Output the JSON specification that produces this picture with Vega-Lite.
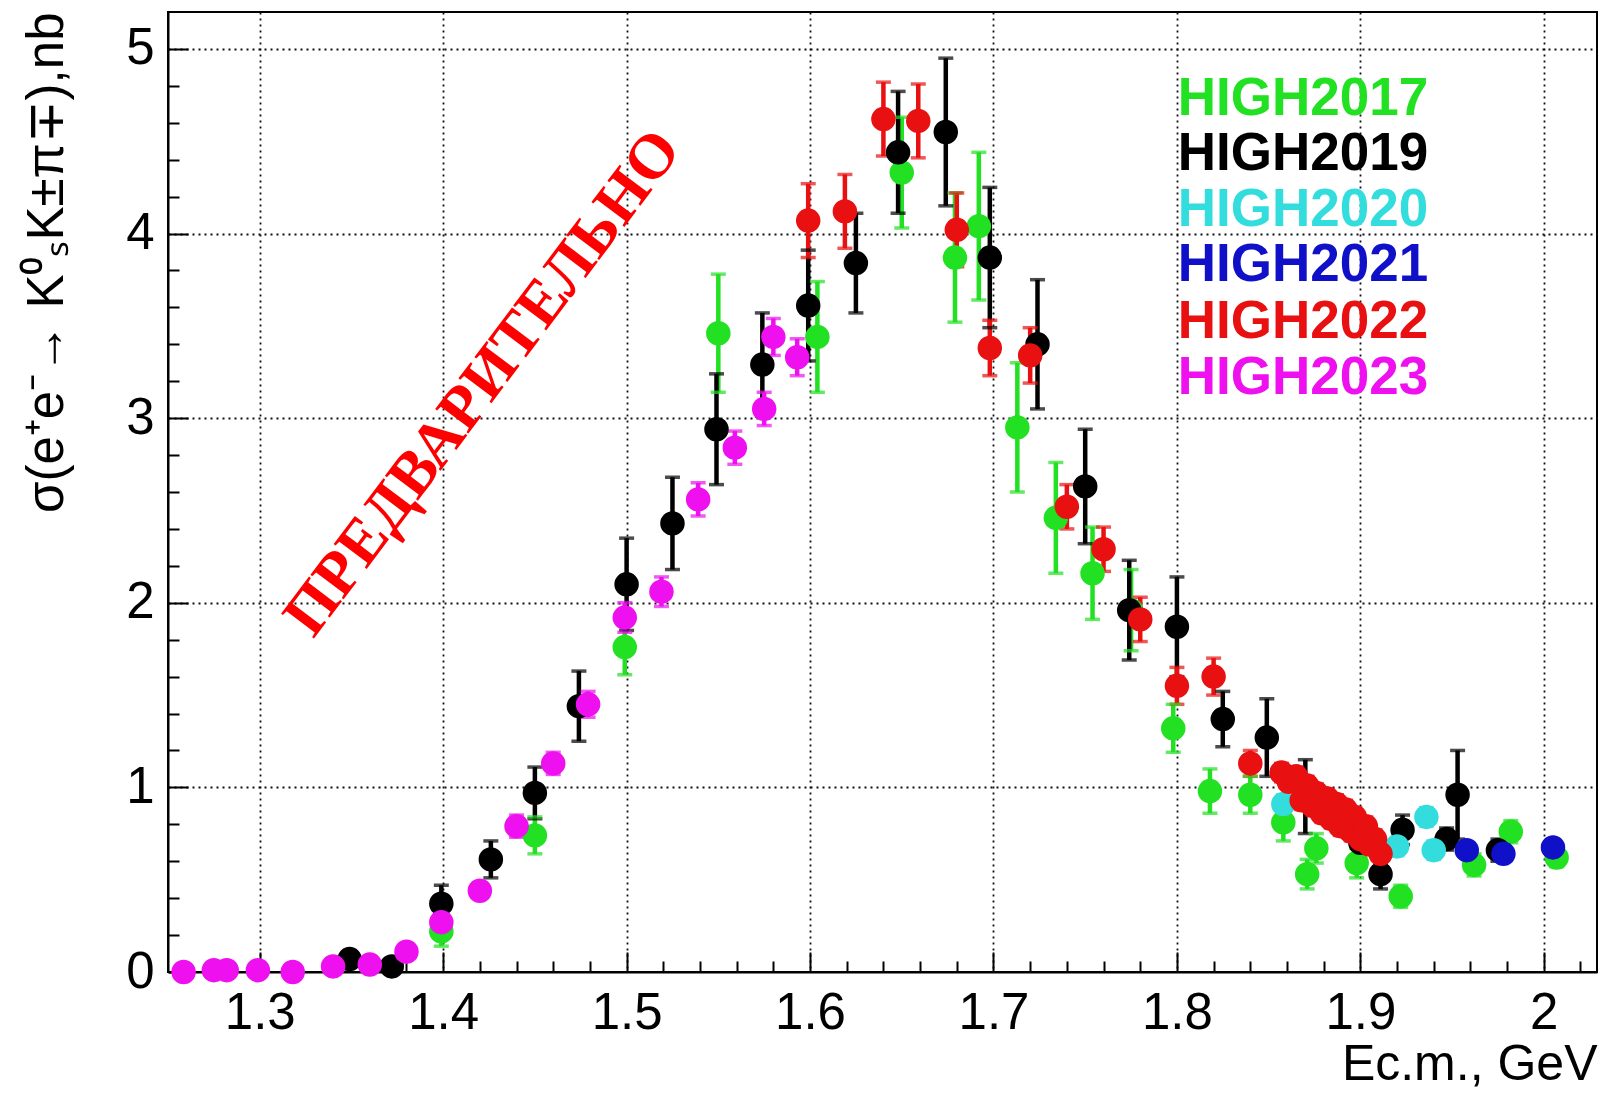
{
  "$schema": "https://vega.github.io/schema/vega-lite/v6.json",
  "width": 1429,
  "height": 960,
  "autosize": {"type": "none"},
  "padding": {"left": 168, "top": 12, "right": 4, "bottom": 124},
  "background": "white",
  "config": {
    "view": {"stroke": "black", "strokeWidth": 2},
    "font": "Liberation Sans"
  },
  "data": {"values": [
    {"run": "HIGH2017", "E": 1.399, "s": 0.22, "lo": 0.14, "hi": 0.30},
    {"run": "HIGH2017", "E": 1.450, "s": 0.74, "lo": 0.64, "hi": 0.84},
    {"run": "HIGH2017", "E": 1.499, "s": 1.76, "lo": 1.61, "hi": 1.91},
    {"run": "HIGH2017", "E": 1.550, "s": 3.46, "lo": 3.14, "hi": 3.78},
    {"run": "HIGH2017", "E": 1.604, "s": 3.44, "lo": 3.14, "hi": 3.74},
    {"run": "HIGH2017", "E": 1.650, "s": 4.33, "lo": 4.03, "hi": 4.63},
    {"run": "HIGH2017", "E": 1.679, "s": 3.87, "lo": 3.52, "hi": 4.22},
    {"run": "HIGH2017", "E": 1.692, "s": 4.04, "lo": 3.64, "hi": 4.44},
    {"run": "HIGH2017", "E": 1.713, "s": 2.95, "lo": 2.60, "hi": 3.30},
    {"run": "HIGH2017", "E": 1.734, "s": 2.46, "lo": 2.16, "hi": 2.76},
    {"run": "HIGH2017", "E": 1.754, "s": 2.16, "lo": 1.91, "hi": 2.41},
    {"run": "HIGH2017", "E": 1.775, "s": 1.96, "lo": 1.74, "hi": 2.18},
    {"run": "HIGH2017", "E": 1.798, "s": 1.32, "lo": 1.19, "hi": 1.45},
    {"run": "HIGH2017", "E": 1.818, "s": 0.98, "lo": 0.86, "hi": 1.10},
    {"run": "HIGH2017", "E": 1.840, "s": 0.96, "lo": 0.86, "hi": 1.06},
    {"run": "HIGH2017", "E": 1.858, "s": 0.81, "lo": 0.71, "hi": 0.91},
    {"run": "HIGH2017", "E": 1.871, "s": 0.53, "lo": 0.45, "hi": 0.61},
    {"run": "HIGH2017", "E": 1.876, "s": 0.67, "lo": 0.59, "hi": 0.75},
    {"run": "HIGH2017", "E": 1.898, "s": 0.59, "lo": 0.51, "hi": 0.67},
    {"run": "HIGH2017", "E": 1.922, "s": 0.41, "lo": 0.35, "hi": 0.47},
    {"run": "HIGH2017", "E": 1.962, "s": 0.58, "lo": 0.52, "hi": 0.64},
    {"run": "HIGH2017", "E": 1.982, "s": 0.76, "lo": 0.70, "hi": 0.82},
    {"run": "HIGH2017", "E": 2.007, "s": 0.62, "lo": 0.57, "hi": 0.67},

    {"run": "HIGH2019", "E": 1.349, "s": 0.07, "lo": 0.03, "hi": 0.11},
    {"run": "HIGH2019", "E": 1.372, "s": 0.03, "lo": 0.00, "hi": 0.06},
    {"run": "HIGH2019", "E": 1.399, "s": 0.37, "lo": 0.27, "hi": 0.47},
    {"run": "HIGH2019", "E": 1.426, "s": 0.61, "lo": 0.51, "hi": 0.71},
    {"run": "HIGH2019", "E": 1.450, "s": 0.97, "lo": 0.83, "hi": 1.11},
    {"run": "HIGH2019", "E": 1.474, "s": 1.44, "lo": 1.25, "hi": 1.63},
    {"run": "HIGH2019", "E": 1.500, "s": 2.10, "lo": 1.85, "hi": 2.35},
    {"run": "HIGH2019", "E": 1.525, "s": 2.43, "lo": 2.18, "hi": 2.68},
    {"run": "HIGH2019", "E": 1.549, "s": 2.94, "lo": 2.64, "hi": 3.24},
    {"run": "HIGH2019", "E": 1.574, "s": 3.29, "lo": 3.01, "hi": 3.57},
    {"run": "HIGH2019", "E": 1.599, "s": 3.61, "lo": 3.31, "hi": 3.91},
    {"run": "HIGH2019", "E": 1.625, "s": 3.84, "lo": 3.57, "hi": 4.11},
    {"run": "HIGH2019", "E": 1.648, "s": 4.44, "lo": 4.11, "hi": 4.77},
    {"run": "HIGH2019", "E": 1.674, "s": 4.55, "lo": 4.15, "hi": 4.95},
    {"run": "HIGH2019", "E": 1.698, "s": 3.87, "lo": 3.49, "hi": 4.25},
    {"run": "HIGH2019", "E": 1.724, "s": 3.40, "lo": 3.05, "hi": 3.75},
    {"run": "HIGH2019", "E": 1.750, "s": 2.63, "lo": 2.32, "hi": 2.94},
    {"run": "HIGH2019", "E": 1.774, "s": 1.96, "lo": 1.69, "hi": 2.23},
    {"run": "HIGH2019", "E": 1.800, "s": 1.87, "lo": 1.60, "hi": 2.14},
    {"run": "HIGH2019", "E": 1.825, "s": 1.37, "lo": 1.22, "hi": 1.52},
    {"run": "HIGH2019", "E": 1.849, "s": 1.27, "lo": 1.06, "hi": 1.48},
    {"run": "HIGH2019", "E": 1.870, "s": 0.95, "lo": 0.75, "hi": 1.15},
    {"run": "HIGH2019", "E": 1.900, "s": 0.70, "lo": 0.60, "hi": 0.80},
    {"run": "HIGH2019", "E": 1.911, "s": 0.53, "lo": 0.45, "hi": 0.61},
    {"run": "HIGH2019", "E": 1.923, "s": 0.77, "lo": 0.69, "hi": 0.85},
    {"run": "HIGH2019", "E": 1.947, "s": 0.72, "lo": 0.66, "hi": 0.78},
    {"run": "HIGH2019", "E": 1.953, "s": 0.96, "lo": 0.72, "hi": 1.20},
    {"run": "HIGH2019", "E": 1.975, "s": 0.66, "lo": 0.60, "hi": 0.72},

    {"run": "HIGH2020", "E": 1.858, "s": 0.91, "lo": 0.86, "hi": 0.96},
    {"run": "HIGH2020", "E": 1.920, "s": 0.68, "lo": 0.63, "hi": 0.73},
    {"run": "HIGH2020", "E": 1.936, "s": 0.84, "lo": 0.79, "hi": 0.89},
    {"run": "HIGH2020", "E": 1.940, "s": 0.66, "lo": 0.61, "hi": 0.71},

    {"run": "HIGH2021", "E": 1.958, "s": 0.66, "lo": 0.62, "hi": 0.70},
    {"run": "HIGH2021", "E": 1.978, "s": 0.64, "lo": 0.60, "hi": 0.68},
    {"run": "HIGH2021", "E": 2.005, "s": 0.675, "lo": 0.635, "hi": 0.715},

    {"run": "HIGH2022", "E": 1.599, "s": 4.07, "lo": 3.87, "hi": 4.27},
    {"run": "HIGH2022", "E": 1.619, "s": 4.12, "lo": 3.92, "hi": 4.32},
    {"run": "HIGH2022", "E": 1.640, "s": 4.62, "lo": 4.42, "hi": 4.82},
    {"run": "HIGH2022", "E": 1.659, "s": 4.61, "lo": 4.41, "hi": 4.81},
    {"run": "HIGH2022", "E": 1.680, "s": 4.02, "lo": 3.82, "hi": 4.22},
    {"run": "HIGH2022", "E": 1.698, "s": 3.38, "lo": 3.23, "hi": 3.53},
    {"run": "HIGH2022", "E": 1.720, "s": 3.34, "lo": 3.19, "hi": 3.49},
    {"run": "HIGH2022", "E": 1.740, "s": 2.52, "lo": 2.40, "hi": 2.64},
    {"run": "HIGH2022", "E": 1.760, "s": 2.29, "lo": 2.17, "hi": 2.41},
    {"run": "HIGH2022", "E": 1.780, "s": 1.91, "lo": 1.79, "hi": 2.03},
    {"run": "HIGH2022", "E": 1.800, "s": 1.55, "lo": 1.45, "hi": 1.65},
    {"run": "HIGH2022", "E": 1.820, "s": 1.60, "lo": 1.50, "hi": 1.70},
    {"run": "HIGH2022", "E": 1.840, "s": 1.13, "lo": 1.06, "hi": 1.20},
    {"run": "HIGH2022", "E": 1.857, "s": 1.08, "lo": 1.03, "hi": 1.13},
    {"run": "HIGH2022", "E": 1.861, "s": 1.03, "lo": 0.98, "hi": 1.08},
    {"run": "HIGH2022", "E": 1.865, "s": 1.06, "lo": 1.01, "hi": 1.11},
    {"run": "HIGH2022", "E": 1.868, "s": 0.93, "lo": 0.88, "hi": 0.98},
    {"run": "HIGH2022", "E": 1.871, "s": 1.01, "lo": 0.96, "hi": 1.06},
    {"run": "HIGH2022", "E": 1.874, "s": 0.90, "lo": 0.85, "hi": 0.95},
    {"run": "HIGH2022", "E": 1.876, "s": 0.97, "lo": 0.92, "hi": 1.02},
    {"run": "HIGH2022", "E": 1.879, "s": 0.86, "lo": 0.81, "hi": 0.91},
    {"run": "HIGH2022", "E": 1.882, "s": 0.94, "lo": 0.89, "hi": 0.99},
    {"run": "HIGH2022", "E": 1.884, "s": 0.83, "lo": 0.78, "hi": 0.88},
    {"run": "HIGH2022", "E": 1.887, "s": 0.91, "lo": 0.86, "hi": 0.96},
    {"run": "HIGH2022", "E": 1.889, "s": 0.79, "lo": 0.74, "hi": 0.84},
    {"run": "HIGH2022", "E": 1.892, "s": 0.88, "lo": 0.83, "hi": 0.93},
    {"run": "HIGH2022", "E": 1.895, "s": 0.76, "lo": 0.71, "hi": 0.81},
    {"run": "HIGH2022", "E": 1.897, "s": 0.84, "lo": 0.79, "hi": 0.89},
    {"run": "HIGH2022", "E": 1.900, "s": 0.72, "lo": 0.67, "hi": 0.77},
    {"run": "HIGH2022", "E": 1.903, "s": 0.79, "lo": 0.74, "hi": 0.84},
    {"run": "HIGH2022", "E": 1.905, "s": 0.69, "lo": 0.64, "hi": 0.74},
    {"run": "HIGH2022", "E": 1.908, "s": 0.72, "lo": 0.67, "hi": 0.77},
    {"run": "HIGH2022", "E": 1.911, "s": 0.64, "lo": 0.59, "hi": 0.69},

    {"run": "HIGH2023", "E": 1.2585, "s": 0.00, "lo": 0.00, "hi": 0.02},
    {"run": "HIGH2023", "E": 1.275, "s": 0.01, "lo": 0.00, "hi": 0.03},
    {"run": "HIGH2023", "E": 1.282, "s": 0.01, "lo": 0.00, "hi": 0.03},
    {"run": "HIGH2023", "E": 1.299, "s": 0.01, "lo": 0.00, "hi": 0.03},
    {"run": "HIGH2023", "E": 1.318, "s": 0.00, "lo": 0.00, "hi": 0.02},
    {"run": "HIGH2023", "E": 1.340, "s": 0.03, "lo": 0.01, "hi": 0.05},
    {"run": "HIGH2023", "E": 1.360, "s": 0.04, "lo": 0.02, "hi": 0.06},
    {"run": "HIGH2023", "E": 1.380, "s": 0.11, "lo": 0.08, "hi": 0.14},
    {"run": "HIGH2023", "E": 1.399, "s": 0.27, "lo": 0.23, "hi": 0.31},
    {"run": "HIGH2023", "E": 1.420, "s": 0.44, "lo": 0.40, "hi": 0.48},
    {"run": "HIGH2023", "E": 1.440, "s": 0.79, "lo": 0.73, "hi": 0.85},
    {"run": "HIGH2023", "E": 1.460, "s": 1.13, "lo": 1.07, "hi": 1.19},
    {"run": "HIGH2023", "E": 1.479, "s": 1.45, "lo": 1.38, "hi": 1.52},
    {"run": "HIGH2023", "E": 1.499, "s": 1.92, "lo": 1.84, "hi": 2.00},
    {"run": "HIGH2023", "E": 1.519, "s": 2.06, "lo": 1.98, "hi": 2.14},
    {"run": "HIGH2023", "E": 1.539, "s": 2.56, "lo": 2.47, "hi": 2.65},
    {"run": "HIGH2023", "E": 1.559, "s": 2.84, "lo": 2.75, "hi": 2.93},
    {"run": "HIGH2023", "E": 1.575, "s": 3.05, "lo": 2.96, "hi": 3.14},
    {"run": "HIGH2023", "E": 1.580, "s": 3.44, "lo": 3.34, "hi": 3.54},
    {"run": "HIGH2023", "E": 1.593, "s": 3.33, "lo": 3.23, "hi": 3.43}
  ]},
  "layer": [
    {
      "data": {"values": [{"label": "ПРЕДВАРИТЕЛЬНО"}]},
      "mark": {"type": "text", "font": "Liberation Serif", "fontWeight": "bold", "fontSize": 63, "angle": -53, "color": "#ff0000", "align": "center", "baseline": "middle"},
      "encoding": {
        "text": {"field": "label"},
        "x": {"datum": 1.4216, "type": "quantitative", "scale": {"domain": [1.25, 2.029], "nice": false, "zero": false},
          "axis": {
            "values": [1.26,1.28,1.3,1.32,1.34,1.36,1.38,1.4,1.42,1.44,1.46,1.48,1.5,1.52,1.54,1.56,1.58,1.6,1.62,1.64,1.66,1.68,1.7,1.72,1.74,1.76,1.78,1.8,1.82,1.84,1.86,1.88,1.9,1.92,1.94,1.96,1.98,2.0,2.02],
            "tickCount": 200,
            "format": "~g",
            "labelExpr": "abs(datum.value*10 - round(datum.value*10)) < 0.001 ? datum.label : ''",
            "tickSize": {"condition": {"test": "abs(datum.value*10 - round(datum.value*10)) < 0.001", "value": -20}, "value": -11},
            "tickColor": "black", "tickWidth": 2,
            "grid": true,
            "gridOpacity": {"condition": {"test": "abs(datum.value*10 - round(datum.value*10)) < 0.001", "value": 1}, "value": 0},
            "gridColor": "#111", "gridDash": [2, 4], "gridWidth": 1.8,
            "domainColor": "black", "domainWidth": 2,
            "labelFont": "Liberation Sans", "labelFontSize": 51, "labelColor": "black", "labelPadding": 36,
            "labelFlush": false, "labelOverlap": false,
            "title": "Ec.m., GeV", "titleFont": "Liberation Sans", "titleFontSize": 50, "titleFontWeight": "normal",
            "titleColor": "black", "titleAnchor": "end", "titlePadding": -8
          }},
        "y": {"datum": 3.19, "type": "quantitative", "scale": {"domain": [0, 5.2], "nice": false, "zero": true},
          "axis": {
            "values": [0,0.2,0.4,0.6,0.8,1,1.2,1.4,1.6,1.8,2,2.2,2.4,2.6,2.8,3,3.2,3.4,3.6,3.8,4,4.2,4.4,4.6,4.8,5],
            "tickCount": 200,
            "format": "~g",
            "labelExpr": "abs(datum.value - round(datum.value)) < 0.001 ? datum.label : ''",
            "tickSize": {"condition": {"test": "abs(datum.value - round(datum.value)) < 0.001", "value": -20}, "value": -11},
            "tickColor": "black", "tickWidth": 2,
            "grid": true,
            "gridOpacity": {"condition": {"test": "abs(datum.value - round(datum.value)) < 0.001 && datum.value > 0", "value": 1}, "value": 0},
            "gridColor": "#111", "gridDash": [2, 4], "gridWidth": 1.8,
            "domainColor": "black", "domainWidth": 2,
            "labelFont": "Liberation Sans", "labelFontSize": 51, "labelColor": "black", "labelPadding": 34,
            "labelFlush": false, "labelOverlap": false,
            "title": "σ(e⁺e⁻→ K⁰ₛK±π∓),nb", "titleFont": "Liberation Sans", "titleFontSize": 51, "titleFontWeight": "normal",
            "titleColor": "black", "titleAnchor": "end", "titlePadding": 52
          }}
      }
    },
    {
      "mark": {"type": "rule", "strokeWidth": 4.5},
      "encoding": {
        "x": {"field": "E", "type": "quantitative"},
        "y": {"field": "lo", "type": "quantitative"},
        "y2": {"field": "hi"},
        "color": {"field": "run", "type": "nominal", "legend": null,
          "scale": {"domain": ["HIGH2017", "HIGH2019", "HIGH2020", "HIGH2021", "HIGH2022", "HIGH2023"],
                    "range": ["#22e022", "#000000", "#33dddd", "#1010c8", "#e81010", "#ee10ee"]}}
      }
    },
    {
      "mark": {"type": "tick", "orient": "horizontal", "size": 15, "thickness": 3.5},
      "encoding": {
        "x": {"field": "E", "type": "quantitative"},
        "y": {"field": "lo", "type": "quantitative"},
        "color": {"field": "run", "type": "nominal", "legend": null}
      }
    },
    {
      "mark": {"type": "tick", "orient": "horizontal", "size": 15, "thickness": 3.5},
      "encoding": {
        "x": {"field": "E", "type": "quantitative"},
        "y": {"field": "hi", "type": "quantitative"},
        "color": {"field": "run", "type": "nominal", "legend": null}
      }
    },
    {
      "mark": {"type": "point", "filled": true, "shape": "circle", "size": 600, "opacity": 1},
      "encoding": {
        "x": {"field": "E", "type": "quantitative"},
        "y": {"field": "s", "type": "quantitative"},
        "color": {"field": "run", "type": "nominal", "legend": null}
      }
    },
    {"data": {"values": [{"run": "HIGH2017"}]},
     "mark": {"type": "text", "fontSize": 53, "fontWeight": "bold", "font": "Liberation Sans", "color": "#22e022", "align": "left", "baseline": "middle"},
     "encoding": {"text": {"field": "run"}, "x": {"datum": 1.8005, "type": "quantitative"}, "y": {"datum": 4.73, "type": "quantitative"}}},
    {"data": {"values": [{"run": "HIGH2019"}]},
     "mark": {"type": "text", "fontSize": 53, "fontWeight": "bold", "font": "Liberation Sans", "color": "#000000", "align": "left", "baseline": "middle"},
     "encoding": {"text": {"field": "run"}, "x": {"datum": 1.8005, "type": "quantitative"}, "y": {"datum": 4.43, "type": "quantitative"}}},
    {"data": {"values": [{"run": "HIGH2020"}]},
     "mark": {"type": "text", "fontSize": 53, "fontWeight": "bold", "font": "Liberation Sans", "color": "#33dddd", "align": "left", "baseline": "middle"},
     "encoding": {"text": {"field": "run"}, "x": {"datum": 1.8005, "type": "quantitative"}, "y": {"datum": 4.13, "type": "quantitative"}}},
    {"data": {"values": [{"run": "HIGH2021"}]},
     "mark": {"type": "text", "fontSize": 53, "fontWeight": "bold", "font": "Liberation Sans", "color": "#1010c8", "align": "left", "baseline": "middle"},
     "encoding": {"text": {"field": "run"}, "x": {"datum": 1.8005, "type": "quantitative"}, "y": {"datum": 3.83, "type": "quantitative"}}},
    {"data": {"values": [{"run": "HIGH2022"}]},
     "mark": {"type": "text", "fontSize": 53, "fontWeight": "bold", "font": "Liberation Sans", "color": "#e81010", "align": "left", "baseline": "middle"},
     "encoding": {"text": {"field": "run"}, "x": {"datum": 1.8005, "type": "quantitative"}, "y": {"datum": 3.52, "type": "quantitative"}}},
    {"data": {"values": [{"run": "HIGH2023"}]},
     "mark": {"type": "text", "fontSize": 53, "fontWeight": "bold", "font": "Liberation Sans", "color": "#ee10ee", "align": "left", "baseline": "middle"},
     "encoding": {"text": {"field": "run"}, "x": {"datum": 1.8005, "type": "quantitative"}, "y": {"datum": 3.22, "type": "quantitative"}}}
  ]
}
